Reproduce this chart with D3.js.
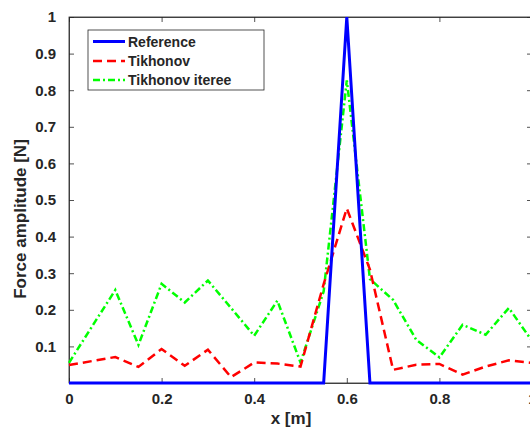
<!DOCTYPE html>
<html>
<head>
<meta charset="utf-8">
<script src="https://cdn.jsdelivr.net/npm/d3@7"></script>
<style>
  html, body { margin: 0; padding: 0; background: #fff; }
  svg { display: block; }
  text { font-family: "Liberation Sans", Arial, Helvetica, sans-serif; font-weight: bold; fill: #262626; }
</style>
</head>
<body>
<svg id="chart" width="530" height="430"></svg>
<script>
const xValues = [0, 0.05, 0.1, 0.15, 0.2, 0.25, 0.3, 0.35, 0.4, 0.45, 0.5, 0.55, 0.6, 0.65, 0.7, 0.75, 0.8, 0.85, 0.9, 0.95, 1];
const reference = [0, 0, 0, 0, 0, 0, 0, 0, 0, 0, 0, 0, 1, 0, 0, 0, 0, 0, 0, 0, 0];
const tikhonov = [0.049, 0.06, 0.071, 0.044, 0.093, 0.047, 0.091, 0.016, 0.056, 0.053, 0.045, 0.27, 0.477, 0.31, 0.036, 0.05, 0.052, 0.023, 0.045, 0.062, 0.055];
const tikhonovIteree = [0.055, 0.155, 0.254, 0.104, 0.271, 0.22, 0.28, 0.205, 0.129, 0.225, 0.056, 0.25, 0.827, 0.284, 0.227, 0.118, 0.07, 0.159, 0.132, 0.205, 0.115];
const xTicks = [0, 0.2, 0.4, 0.6, 0.8, 1];
const yTicks = [0.1, 0.2, 0.3, 0.4, 0.5, 0.6, 0.7, 0.8, 0.9, 1];
const seriesNames = ["Reference", "Tikhonov", "Tikhonov iteree"];

const svg = d3.select("#chart");
const mLeft = 69, mRight = 532, mTop = 17, mBottom = 383;
const x = d3.scaleLinear().domain([0, 1]).range([mLeft, mRight]);
const y = d3.scaleLinear().domain([0, 1]).range([mBottom, mTop]);
const axisColor = "#262626";

// Box
svg.append("rect").attr("x", mLeft).attr("y", mTop).attr("width", mRight - mLeft).attr("height", mBottom - mTop)
  .attr("fill", "#fff").attr("stroke", axisColor).attr("stroke-width", 0.8);

// Axes
const xAxis = svg.append("g").attr("transform", `translate(0,${mBottom})`)
  .call(d3.axisBottom(x).tickValues(xTicks).tickFormat(d3.format("")).tickSizeInner(-5).tickSizeOuter(0).tickPadding(10));
const xAxisTop = svg.append("g").attr("transform", `translate(0,${mTop})`)
  .call(d3.axisTop(x).tickValues(xTicks).tickFormat("").tickSizeInner(-5).tickSizeOuter(0));
const yAxis = svg.append("g").attr("transform", `translate(${mLeft},0)`)
  .call(d3.axisLeft(y).tickValues(yTicks).tickFormat(d3.format("")).tickSizeInner(-5).tickSizeOuter(0).tickPadding(13));
const yAxisRight = svg.append("g").attr("transform", `translate(${mRight},0)`)
  .call(d3.axisRight(y).tickValues(yTicks).tickFormat("").tickSizeInner(-5).tickSizeOuter(0));
[xAxis, xAxisTop, yAxis, yAxisRight].forEach(g => {
  g.select(".domain").attr("stroke", axisColor).attr("stroke-width", 0.8);
  g.selectAll(".tick line").attr("stroke", axisColor).attr("stroke-width", 0.8);
  g.selectAll(".tick text").attr("font-size", 15).attr("font-family", "Liberation Sans, Arial, sans-serif")
    .attr("font-weight", "bold").attr("fill", axisColor);
});

// Lines
const line = vals => d3.line().x((d, i) => x(xValues[i])).y(d => y(d))(vals);
const styles = [
  { data: reference, color: "#0000ff", width: 3, dash: null },
  { data: tikhonov, color: "#ff0000", width: 2.5, dash: "9,5" },
  { data: tikhonovIteree, color: "#00ff00", width: 2.5, dash: "7,3,2,3" }
];
styles.slice().reverse().forEach(s => {
  svg.append("path").attr("d", line(s.data)).attr("fill", "none")
    .attr("stroke", s.color).attr("stroke-width", s.width)
    .attr("stroke-dasharray", s.dash).attr("stroke-linejoin", "miter");
});

// Axis labels
svg.append("text").attr("x", 291).attr("y", 424).attr("text-anchor", "middle").attr("font-size", 17).text("x [m]");
svg.append("text").attr("transform", "translate(26,219) rotate(-90)").attr("text-anchor", "middle").attr("font-size", 17).text("Force amplitude [N]");

// Legend
const lg = svg.append("g");
lg.append("rect").attr("x", 88).attr("y", 30).attr("width", 176).attr("height", 60)
  .attr("fill", "#fff").attr("stroke", axisColor).attr("stroke-width", 0.8);
const legendY = [41.5, 61, 80];
styles.forEach((s, i) => {
  lg.append("line").attr("x1", 93).attr("x2", 125).attr("y1", legendY[i]).attr("y2", legendY[i])
    .attr("stroke", s.color).attr("stroke-width", s.width).attr("stroke-dasharray", s.dash);
  lg.append("text").attr("x", 128).attr("y", legendY[i] + 5).attr("font-size", 14).text(seriesNames[i]);
});
</script>
</body>
</html>
